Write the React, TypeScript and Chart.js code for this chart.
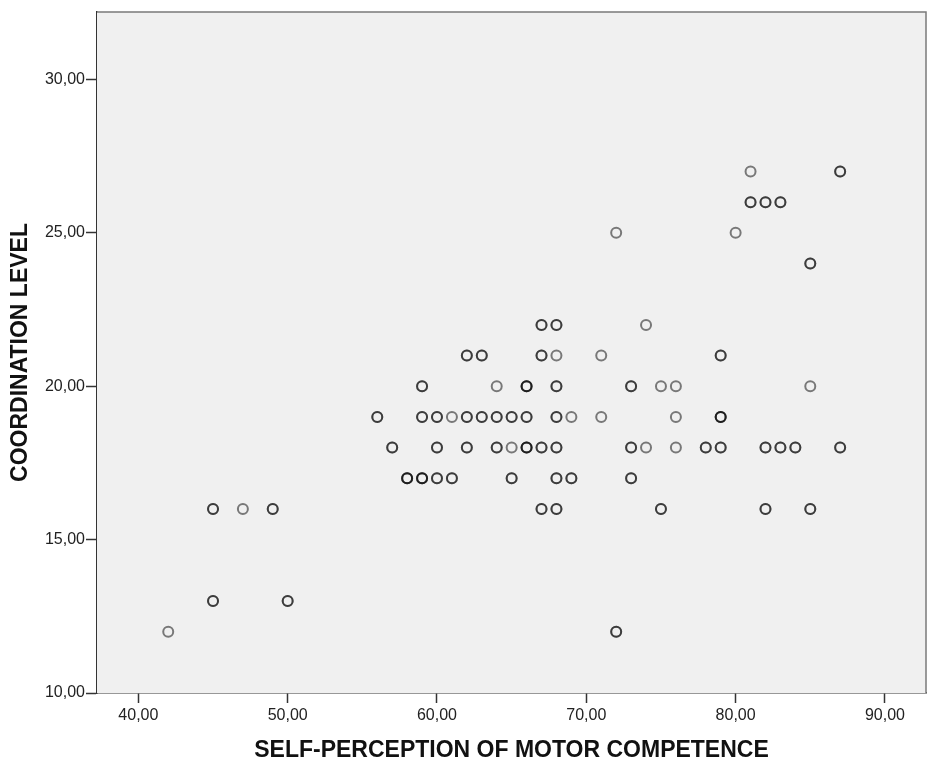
import React, { useEffect, useRef } from "react";
import { Chart, registerables } from "chart.js";

Chart.register(...registerables);

const selfPerception = [
  81, 87,
  81, 82, 83,
  72, 80,
  85,
  67, 68, 74,
  62, 63, 67, 68, 71, 79,
  59, 64, 66, 68, 73, 75, 76, 85,
  56, 59, 60, 61, 62, 63, 64, 65, 66, 68, 69, 71, 76, 79,
  57, 60, 62, 64, 65, 66, 67, 68, 73, 74, 76, 78, 79, 82, 83, 84, 87,
  58, 59, 60, 61, 65, 68, 69, 73,
  45, 47, 49, 67, 68, 75, 82, 85,
  45, 50,
  42, 72,
];
const coordinationLevel = [
  27, 27,
  26, 26, 26,
  25, 25,
  24,
  22, 22, 22,
  21, 21, 21, 21, 21, 21,
  20, 20, 20, 20, 20, 20, 20, 20,
  19, 19, 19, 19, 19, 19, 19, 19, 19, 19, 19, 19, 19, 19,
  18, 18, 18, 18, 18, 18, 18, 18, 18, 18, 18, 18, 18, 18, 18, 18, 18,
  17, 17, 17, 17, 17, 17, 17, 17,
  16, 16, 16, 16, 16, 16, 16, 16,
  13, 13,
  12, 12,
];
const caseCounts = [
  1, 2,
  2, 2, 2,
  1, 1,
  2,
  2, 2, 1,
  2, 2, 2, 1, 1, 2,
  2, 1, 3, 2, 2, 1, 1, 1,
  2, 2, 2, 1, 2, 2, 2, 2, 2, 2, 1, 1, 1, 3,
  2, 2, 2, 2, 1, 3, 2, 2, 2, 1, 1, 2, 2, 2, 2, 2, 2,
  3, 3, 2, 2, 2, 2, 2, 2,
  2, 1, 2, 2, 2, 2, 2, 2,
  2, 2,
  1, 2,
];

const xTickValues = [40, 50, 60, 70, 80, 90];
const yTickValues = [10, 15, 20, 25, 30];
const xTitle = "SELF-PERCEPTION OF MOTOR COMPETENCE";
const yTitle = "COORDINATION LEVEL";

const fmt = (v: number) => v.toFixed(2).replace(".", ",");

export default function App() {
  const ref = useRef<HTMLCanvasElement | null>(null);

  useEffect(() => {
    if (!ref.current) return;
    const points: { x: number; y: number }[] = [];
    selfPerception.forEach((x, i) => {
      for (let k = 0; k < caseCounts[i]; k++) points.push({ x, y: coordinationLevel[i] });
    });

    const frame = {
      id: "frame",
      beforeDatasetsDraw(chart: any) {
        const { ctx, chartArea: a } = chart;
        ctx.save();
        ctx.fillStyle = "#f0f0f0";
        ctx.fillRect(a.left, a.top, a.right - a.left, a.bottom - a.top);
        ctx.restore();
      },
      afterDraw(chart: any) {
        const { ctx, chartArea: a } = chart;
        ctx.save();
        ctx.strokeStyle = "#7a7a7a";
        ctx.lineWidth = 1.5;
        ctx.beginPath();
        ctx.moveTo(a.left, a.top);
        ctx.lineTo(a.right, a.top);
        ctx.lineTo(a.right, a.bottom);
        ctx.stroke();
        ctx.restore();
      },
    };

    const font = "'Liberation Sans', Arial, sans-serif";
    const chart = new Chart(ref.current, {
      type: "scatter",
      data: {
        datasets: [
          {
            data: points,
            pointStyle: "circle",
            pointRadius: 5,
            pointHoverRadius: 5,
            pointBorderWidth: 2,
            borderColor: "rgba(0,0,0,0.5)",
            backgroundColor: "rgba(0,0,0,0)",
          },
        ],
      },
      options: {
        responsive: false,
        animation: false,
        layout: { autoPadding: false, padding: { top: 12, right: 3, left: 0, bottom: 0 } },
        plugins: { legend: { display: false }, tooltip: { enabled: false } },
        scales: {
          x: {
            type: "linear",
            min: 37.23,
            max: 92.75,
            afterBuildTicks: (s: any) => {
              s.ticks = xTickValues.map((v) => ({ value: v }));
            },
            afterFit: (s: any) => {
              s.height = 70;
            },
            ticks: {
              callback: (v: any) => fmt(Number(v)),
              font: { family: font, size: 16 },
              color: "#222",
              padding: 3,
              maxRotation: 0,
            },
            grid: {
              drawOnChartArea: false,
              drawTicks: true,
              tickLength: 10,
              tickColor: "#333",
              tickWidth: 1.5,
            },
            border: { display: true, color: "#333", width: 1.5 },
            title: {
              display: true,
              text: xTitle,
              font: { family: font, size: 23, weight: "bold", lineHeight: 1 },
              color: "#111",
              padding: { top: 0, bottom: 1 },
            },
          },
          y: {
            type: "linear",
            min: 10,
            max: 32.2,
            afterBuildTicks: (s: any) => {
              s.ticks = yTickValues.map((v) => ({ value: v }));
            },
            afterFit: (s: any) => {
              s.width = 97;
            },
            ticks: {
              callback: (v: any) => fmt(Number(v)),
              font: { family: font, size: 16 },
              color: "#222",
              padding: 1,
            },
            grid: {
              drawOnChartArea: false,
              drawTicks: true,
              tickLength: 11,
              tickColor: "#333",
              tickWidth: 1.5,
            },
            border: { display: true, color: "#333", width: 1.5 },
            title: {
              display: true,
              text: yTitle,
              font: { family: font, size: 23, weight: "bold", lineHeight: 1 },
              color: "#111",
              padding: { top: 9, bottom: 0 },
            },
          },
        },
      },
      plugins: [frame],
    } as any);
    return () => chart.destroy();
  }, []);

  return (
    <div style={{ position: "absolute", left: 0, top: 0, width: 929, height: 763, background: "#fff" }}>
      <canvas ref={ref} width={929} height={763} style={{ display: "block" }} />
    </div>
  );
}
